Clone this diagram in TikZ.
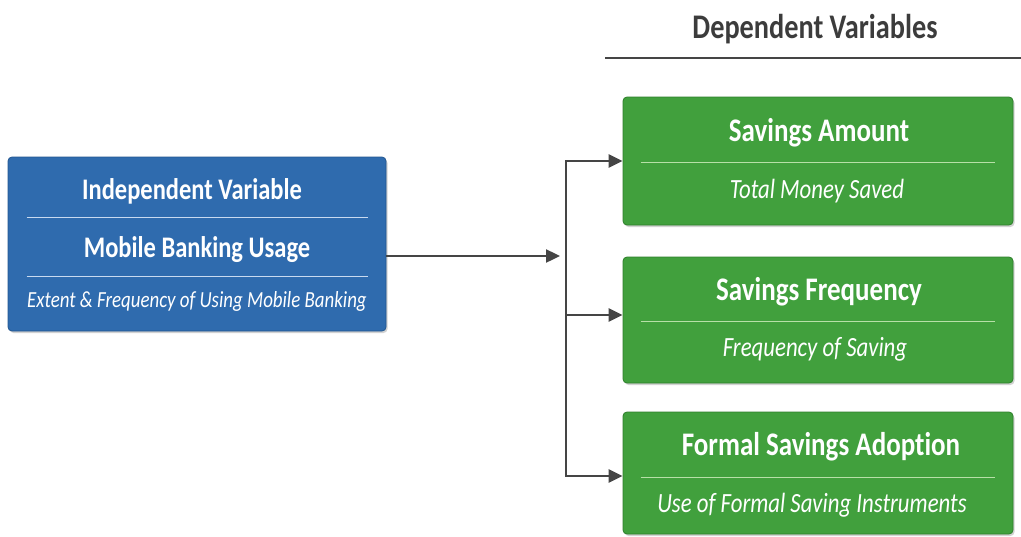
\documentclass[tikz,border=0pt]{standalone}
\usepackage{fontspec}
\usepackage{graphicx}
\setmainfont{Carlito}[Ligatures=NoCommon]
\usetikzlibrary{arrows.meta,calc,shadows}
\definecolor{bluebox}{HTML}{2F6BAE}
\definecolor{blueedge}{HTML}{22568F}
\definecolor{bluediv}{HTML}{C9DAF0}
\definecolor{greenbox}{HTML}{41A03D}
\definecolor{greenedge}{HTML}{2E7F2B}
\definecolor{greendiv}{HTML}{B7E0A8}
\definecolor{linegray}{HTML}{454545}
\definecolor{headgray}{HTML}{3C3C3C}
\newcommand{\tallt}[1]{\scalebox{1}[1.22]{#1}}
\tikzset{
  box/.style={rounded corners=4pt, minimum width=#1, inner sep=0pt,
    drop shadow={shadow xshift=1.5pt, shadow yshift=-2pt, opacity=0.35}},
  bluestyle/.style={box=378pt, fill=bluebox, draw=blueedge, line width=0.8pt},
  greenstyle/.style={box=390pt, fill=greenbox, draw=greenedge, line width=0.8pt},
  bluetitle/.style={text=white, font=\fontsize{24.5}{29}\selectfont\bfseries, inner sep=0pt},
  greentitle/.style={text=white, font=\fontsize{27}{32}\selectfont\bfseries, inner sep=0pt},
  subtext/.style={text=white, font=\fontsize{22.8}{27}\selectfont\itshape, inner sep=0pt},
  bluesub/.style={text=white, font=\fontsize{18.9}{23}\selectfont\itshape, inner sep=0pt},
  conn/.style={draw=linegray, line width=2.4pt},
  arr/.style={conn, -{Triangle[length=14pt,width=13pt]}},
}
\begin{document}
\begin{tikzpicture}[x=1pt,y=-1pt]
\useasboundingbox[fill=white] (0,0) rectangle (1021,536);
% header
\node[text=headgray, font=\fontsize{28.3}{33}\selectfont\bfseries, inner sep=0pt] (hdr) at (815,29) {\tallt{Dependent Variables}};
\coordinate (hl) at (605,58);
\coordinate (hr) at (1021,58);
\draw[draw=linegray, line width=1.6pt] (hl) -- (hr);
% independent box
\node[bluestyle, minimum height=174pt] (iv) at (197,244) {};
\node[bluetitle] (ivt) at (192,191) {\tallt{Independent Variable}};
\draw[bluediv, line width=1pt] ($(iv.west)+(19,-27)$) -- ($(iv.east)+(-18,-27)$);
\node[bluetitle] (ivm) at (197,250) {\tallt{Mobile Banking Usage}};
\draw[bluediv, line width=1pt] ($(iv.west)+(19,32)$) -- ($(iv.east)+(-18,32)$);
\node[bluesub] (ivs) at (197,301) {\tallt{Extent \& Frequency of Using Mobile Banking}};
% dependent boxes
\node[greenstyle, minimum height=128pt] (g1) at (818,161) {};
\node[greentitle] (g1t) at (819,133) {\tallt{Savings Amount}};
\draw[greendiv, line width=1pt] ($(g1.west)+(18,1)$) -- ($(g1.east)+(-18,1)$);
\node[subtext] (g1s) at (817,191) {\tallt{Total Money Saved}};

\node[greenstyle, minimum height=126pt] (g2) at (818,320) {};
\node[greentitle] (g2t) at (819,292) {\tallt{Savings Frequency}};
\draw[greendiv, line width=1pt] ($(g2.west)+(18,1)$) -- ($(g2.east)+(-18,1)$);
\node[subtext] (g2s) at (815,349) {\tallt{Frequency of Saving}};

\node[greenstyle, minimum height=122pt] (g3) at (818,473) {};
\node[greentitle] (g3t) at (821,447) {\tallt{Formal Savings Adoption}};
\draw[greendiv, line width=1pt] ($(g3.west)+(18,4)$) -- ($(g3.east)+(-18,4)$);
\node[subtext] (g3s) at (812,505) {\tallt{Use of Formal Saving Instruments}};
% connectors
\coordinate (jn) at (566,256);
\coordinate (jtop) at (566,161);
\coordinate (jmid) at (566,315);
\coordinate (jbot) at (566,476);
\draw[arr] (iv.east |- jn) -- ([xshift=-6pt]jn);
\draw[conn, line cap=rect] (jtop) -- (jbot);
\draw[arr] (jtop) -- (jtop -| g1.west);
\draw[arr] (jmid) -- (jmid -| g2.west);
\draw[arr] (jbot) -- (jbot -| g3.west);
\end{tikzpicture}
\end{document}
